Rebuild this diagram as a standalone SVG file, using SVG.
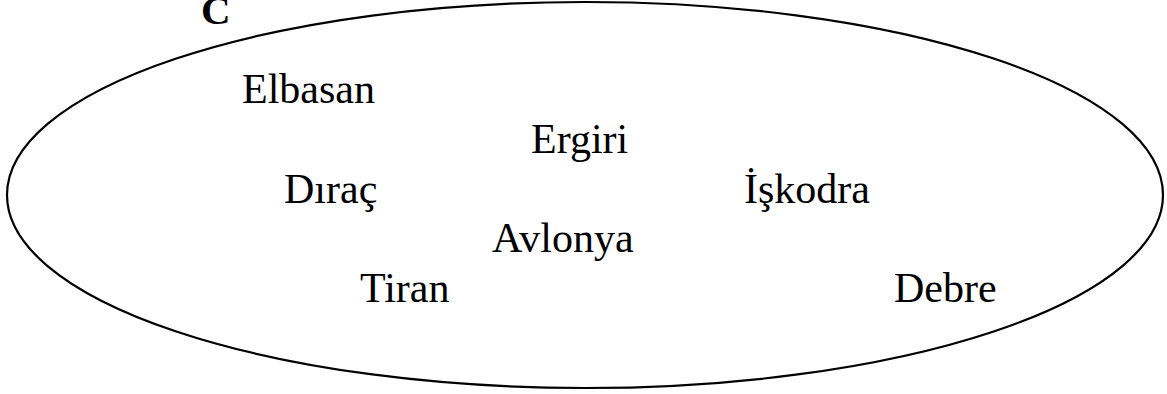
<svg xmlns="http://www.w3.org/2000/svg" width="1167" height="394" viewBox="0 0 1167 394">
  <style>
    .lbl { font-family: "Liberation Serif", "Times New Roman", serif; font-size: 42px; fill: #000; }
    .title { font-family: "Liberation Serif", "Times New Roman", serif; font-size: 41px; font-weight: bold; fill: #000; }
    .set { fill: none; stroke: #000; stroke-width: 2.2; }
  </style>
  <rect width="1167" height="394" fill="#fff"/>
  <text class="title" x="201" y="24">C</text>
  <g id="set-c">
    <ellipse class="set" cx="585" cy="195" rx="578" ry="193"/>
  </g>
  <g id="elbasan"><text class="lbl" x="242" y="103">Elbasan</text></g>
  <g id="ergiri"><text class="lbl" x="531" y="153">Ergiri</text></g>
  <g id="dirac"><text class="lbl" x="284" y="203">Dıraç</text></g>
  <g id="iskodra"><text class="lbl" x="744" y="203">İşkodra</text></g>
  <g id="avlonya"><text class="lbl" x="492" y="252">Avlonya</text></g>
  <g id="tiran"><text class="lbl" x="360" y="302">Tiran</text></g>
  <g id="debre"><text class="lbl" x="894" y="302">Debre</text></g>
  <g id="connectors"></g>
</svg>
